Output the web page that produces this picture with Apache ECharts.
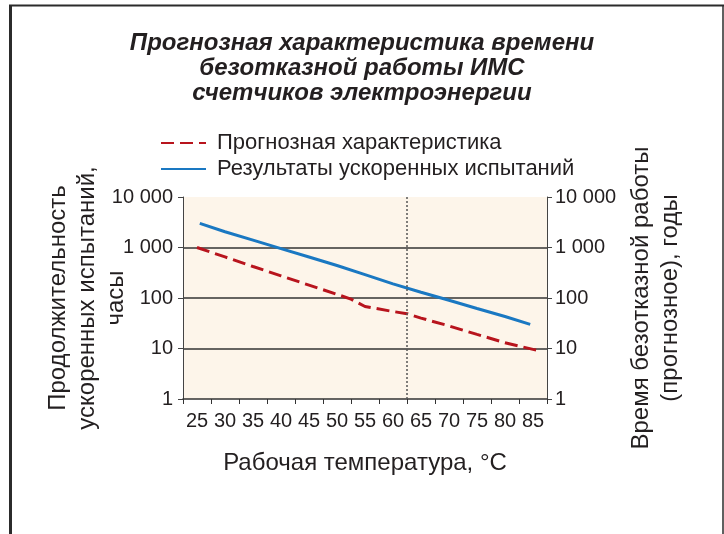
<!DOCTYPE html>
<html>
<head>
<meta charset="utf-8">
<script src="https://cdn.jsdelivr.net/npm/echarts@6/dist/echarts.min.js"></script>
<style>
html,body{margin:0;padding:0;background:#fff;}
#chart{width:724px;height:534px;}
</style>
</head>
<body>
<div id="chart"></div>
<script>
// Category labels along the temperature axis
const tempLabels = ['25','30','35','40','45','50','55','60','65','70','75','80','85'];

// Forecast characteristic (dashed red)
const forecastX = [25, 30, 35, 40, 45, 50, 52.5, 55, 60, 62.5, 65, 70, 75, 80, 85, 86.3];
const forecastY = [1000, 650, 420, 275, 180, 118, 95, 68, 54, 49, 40, 28, 19, 13, 9.6, 9.0];

// Accelerated test results (solid blue)
const testX = [25.5, 30, 35, 40, 45, 50, 55, 60, 65, 70, 75, 80, 84.5];
const testY = [3000, 2050, 1400, 950, 650, 440, 290, 190, 130, 90, 62, 43, 30];

// Reference line temperature
const markTemp = [62.5];

const seriesNames = ['Прогнозная характеристика', 'Результаты ускоренных испытаний'];

const TXT = '#231f20';
const FONT = 'Liberation Sans';

function fmt(v){ return String(v).replace(/\B(?=(\d{3})+(?!\d))/g, ' '); }

const chart = echarts.init(document.getElementById('chart'), null, {renderer:'canvas'});
chart.setOption({
  backgroundColor: '#ffffff',
  animation: false,
  textStyle: {fontFamily: FONT, color: TXT},
  title: {
    text: 'Прогнозная характеристика времени\nбезотказной работы ИМС\nсчетчиков электроэнергии',
    left: 'center',
    top: 26,
    textStyle: {fontFamily: FONT, fontSize: 24, fontWeight: 'bold', fontStyle: 'italic', color: TXT, lineHeight: 25}
  },
  legend: {
    orient: 'vertical',
    left: 155,
    top: 127,
    itemWidth: 45,
    itemHeight: 14,
    itemGap: 4,
    itemStyle: {opacity: 0},
    textStyle: {fontFamily: FONT, fontSize: 22, color: TXT, lineHeight: 22, padding: [0, 0, 0, 6]},
    data: seriesNames
  },
  grid: {
    left: 183, right: 177, top: 197, bottom: 135,
    show: true, backgroundColor: '#fdf5ea', borderWidth: 0
  },
  xAxis: [
    {type: 'value', min: 22.5, max: 87.5, show: false, position: 'bottom'},
    {
      type: 'category', data: tempLabels, boundaryGap: true, position: 'bottom',
      axisLine: {lineStyle: {color: '#333', width: 1.5}},
      axisTick: {show: true, length: 5, alignWithLabel: false, lineStyle: {color: '#333'}},
      axisLabel: {fontFamily: FONT, fontSize: 20, color: TXT, margin: 12, interval: 0},
      splitLine: {show: false},
      name: 'Рабочая температура, °C',
      nameLocation: 'middle',
      nameGap: 52,
      nameMoveOverlap: false,
      nameTextStyle: {fontFamily: FONT, fontSize: 24, color: TXT}
    }
  ],
  yAxis: [
    {
      type: 'log', logBase: 10, min: 1, max: 10000, position: 'left',
      axisLine: {show: true, lineStyle: {color: '#444', width: 1}},
      axisTick: {show: true, length: 5, lineStyle: {color: '#444'}},
      axisLabel: {fontFamily: FONT, fontSize: 20, color: TXT, margin: 10, formatter: fmt},
      splitLine: {show: true, showMaxLine: false, showMinLine: false, lineStyle: {color: '#333', width: 1.6}},
      minorTick: {show: false},
      name: 'Продолжительность\nускоренных испытаний,\nчасы',
      nameLocation: 'middle',
      nameGap: 52,
      nameMoveOverlap: false,
      nameTextStyle: {fontFamily: FONT, fontSize: 24, color: TXT, lineHeight: 29}
    },
    {
      type: 'log', logBase: 10, min: 1, max: 10000, position: 'right',
      axisLine: {show: true, lineStyle: {color: '#444', width: 1}},
      axisTick: {show: true, length: 5, lineStyle: {color: '#444'}},
      axisLabel: {fontFamily: FONT, fontSize: 20, color: TXT, margin: 8, formatter: fmt},
      splitLine: {show: false},
      name: 'Время безотказной работы\n(прогнозное), годы',
      nameLocation: 'middle',
      nameGap: 80,
      nameMoveOverlap: false,
      nameTextStyle: {fontFamily: FONT, fontSize: 24, color: TXT, lineHeight: 29}
    }
  ],
  series: [
    {
      name: seriesNames[0], type: 'line', xAxisIndex: 0, yAxisIndex: 0,
      symbol: 'none', showSymbol: false,
      data: forecastX.map((x, i) => [x, forecastY[i]]),
      itemStyle: {color: '#b8141d'},
      lineStyle: {color: '#b8141d', width: 3, type: [13, 6]},
      markLine: {
        silent: true, symbol: 'none', label: {show: false},
        lineStyle: {color: '#555', width: 1.5, type: [2, 2]},
        data: markTemp.map(t => ({xAxis: t}))
      },
      z: 3
    },
    {
      name: seriesNames[1], type: 'line', xAxisIndex: 0, yAxisIndex: 0,
      symbol: 'none', showSymbol: false,
      data: testX.map((x, i) => [x, testY[i]]),
      itemStyle: {color: '#1a78c2'},
      lineStyle: {color: '#1a78c2', width: 3},
      z: 4
    }
  ],
  graphic: [
    {type: 'line', shape: {x1: 10.5, y1: 5, x2: 10.5, y2: 534}, style: {stroke: '#2b2b2b', lineWidth: 3}},
    {type: 'line', shape: {x1: 9, y1: 5.5, x2: 724, y2: 5.5}, style: {stroke: '#2b2b2b', lineWidth: 2}},
    {type: 'line', shape: {x1: 723, y1: 5, x2: 723, y2: 534}, style: {stroke: '#2b2b2b', lineWidth: 1.5}}
  ]
});
</script>
</body>
</html>
